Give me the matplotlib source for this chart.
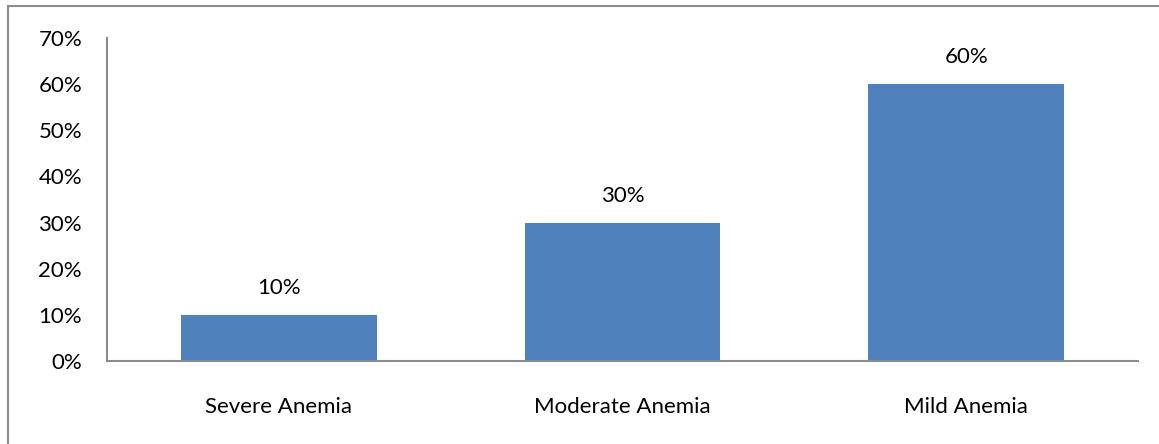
import matplotlib.pyplot as plt
from matplotlib.patches import Rectangle
from matplotlib.ticker import PercentFormatter

# datos del gráfico
categorias = ['Severe Anemia', 'Moderate Anemia', 'Mild Anemia']
valores = [0.10, 0.30, 0.60]
ticks_y = [0, 0.1, 0.2, 0.3, 0.4, 0.5, 0.6, 0.7]

plt.rcParams['font.family'] = ['Lato', 'DejaVu Sans']

fig = plt.figure(figsize=(11.59, 4.44), dpi=100)
ax = fig.add_axes([107/1159, 1 - 361/444, (1138 - 107)/1159, (361 - 38)/444])

# marco gris de la figura
fig.patches.append(Rectangle((8/1159, -0.5), 2, 1.5 - 6/444, transform=fig.transFigure,
                             fill=False, edgecolor='#8c8c8c', linewidth=1.5))

x = range(len(categorias))
barras = ax.bar(x, valores, width=0.57, color='#4f81bd')
for b, v in zip(barras, valores):
    ax.annotate(f'{v:.0%}', (b.get_x() + b.get_width()/2, v), xytext=(0, 12),
                textcoords='offset points', ha='center', va='bottom', fontsize=16)

ax.set_xlim(-0.5, 2.5)
ax.set_ylim(0, 0.7)
ax.set_yticks(ticks_y)
ax.yaxis.set_major_formatter(PercentFormatter(1.0, decimals=0))
ax.set_xticks(list(x))
ax.set_xticklabels(categorias)
ax.tick_params(length=0, labelsize=16, colors='black')
ax.tick_params(axis='y', pad=18)
ax.tick_params(axis='x', pad=26)
for lado in ['top', 'right']:
    ax.spines[lado].set_visible(False)
for lado in ['left', 'bottom']:
    ax.spines[lado].set_color('#8c8c8c')
    ax.spines[lado].set_linewidth(1.5)

fig.savefig('out.png', dpi=100)
